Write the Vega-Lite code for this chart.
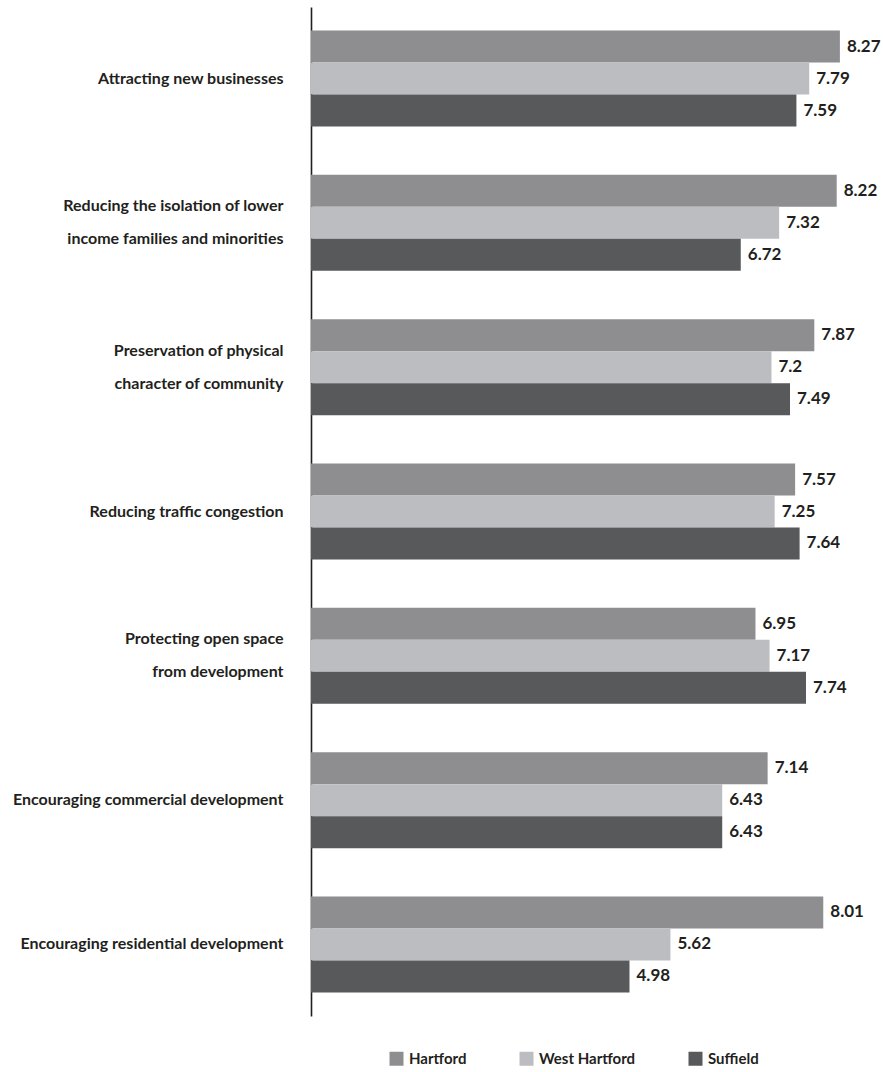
{
  "$schema": "https://vega.github.io/schema/vega-lite/v6.json",
  "width": 550,
  "height": 1009,
  "autosize": {"type": "none"},
  "padding": {"left": 311, "top": 7, "right": 22, "bottom": 56},
  "background": "white",
  "config": {
    "view": {"stroke": null},
    "font": "Lato, sans-serif"
  },
  "data": {
    "values": [
      {"category": "Attracting new businesses", "town": "Hartford", "value": 8.27},
      {"category": "Attracting new businesses", "town": "West Hartford", "value": 7.79},
      {"category": "Attracting new businesses", "town": "Suffield", "value": 7.59},
      {"category": "Reducing the isolation of lower|income families and minorities", "town": "Hartford", "value": 8.22},
      {"category": "Reducing the isolation of lower|income families and minorities", "town": "West Hartford", "value": 7.32},
      {"category": "Reducing the isolation of lower|income families and minorities", "town": "Suffield", "value": 6.72},
      {"category": "Preservation of physical|character of community", "town": "Hartford", "value": 7.87},
      {"category": "Preservation of physical|character of community", "town": "West Hartford", "value": 7.2},
      {"category": "Preservation of physical|character of community", "town": "Suffield", "value": 7.49},
      {"category": "Reducing traffic congestion", "town": "Hartford", "value": 7.57},
      {"category": "Reducing traffic congestion", "town": "West Hartford", "value": 7.25},
      {"category": "Reducing traffic congestion", "town": "Suffield", "value": 7.64},
      {"category": "Protecting open space|from development", "town": "Hartford", "value": 6.95},
      {"category": "Protecting open space|from development", "town": "West Hartford", "value": 7.17},
      {"category": "Protecting open space|from development", "town": "Suffield", "value": 7.74},
      {"category": "Encouraging commercial development", "town": "Hartford", "value": 7.14},
      {"category": "Encouraging commercial development", "town": "West Hartford", "value": 6.43},
      {"category": "Encouraging commercial development", "town": "Suffield", "value": 6.43},
      {"category": "Encouraging residential development", "town": "Hartford", "value": 8.01},
      {"category": "Encouraging residential development", "town": "West Hartford", "value": 5.62},
      {"category": "Encouraging residential development", "town": "Suffield", "value": 4.98}
    ]
  },
  "encoding": {
    "y": {
      "field": "category",
      "type": "nominal",
      "sort": null,
      "scale": {"paddingInner": 0.335, "paddingOuter": 0.163},
      "axis": {
        "title": null,
        "ticks": false,
        "grid": false,
        "domain": true,
        "domainColor": "#231f20",
        "domainWidth": 1.6,
        "labelPadding": 28,
        "labelFont": "Lato",
        "labelFontSize": 16,
        "labelFontWeight": "bold",
        "labelColor": "#231f20",
        "labelLineHeight": 33,
        "labelLimit": 400,
        "labelOffset": {"condition": {"test": "indexof(datum.value, '|') >= 0", "value": -16.5}, "value": 0},
        "labelExpr": "split(datum.label, '|')"
      }
    },
    "yOffset": {
      "field": "town",
      "type": "nominal",
      "sort": ["Hartford", "West Hartford", "Suffield"],
      "scale": {"paddingInner": 0, "paddingOuter": 0}
    },
    "x": {
      "field": "value",
      "type": "quantitative",
      "scale": {"domain": [0, 8.6], "nice": false, "zero": true},
      "axis": null
    }
  },
  "layer": [
    {
      "mark": {"type": "bar", "opacity": 1},
      "encoding": {
        "color": {
          "field": "town",
          "type": "nominal",
          "sort": ["Hartford", "West Hartford", "Suffield"],
          "scale": {
            "domain": ["Hartford", "West Hartford", "Suffield"],
            "range": ["#8e8e91", "#bcbdc0", "#58595b"]
          },
          "legend": {
            "title": null,
            "orient": "none",
            "legendX": 78,
            "legendY": 1044,
            "direction": "horizontal",
            "columns": 3,
            "columnPadding": 52,
            "symbolType": "square",
            "symbolSize": 196,
            "symbolStrokeWidth": 0,
            "symbolOpacity": 1,
            "labelFont": "Lato",
            "labelFontSize": 15,
            "labelFontWeight": "bold",
            "labelColor": "#231f20",
            "labelOffset": 5
          }
        }
      }
    },
    {
      "mark": {
        "type": "text",
        "align": "left",
        "baseline": "middle",
        "dx": 7,
        "font": "Lato",
        "fontSize": 17,
        "fontWeight": "bold",
        "color": "#231f20"
      },
      "encoding": {
        "text": {"field": "value", "type": "quantitative"}
      }
    }
  ]
}
